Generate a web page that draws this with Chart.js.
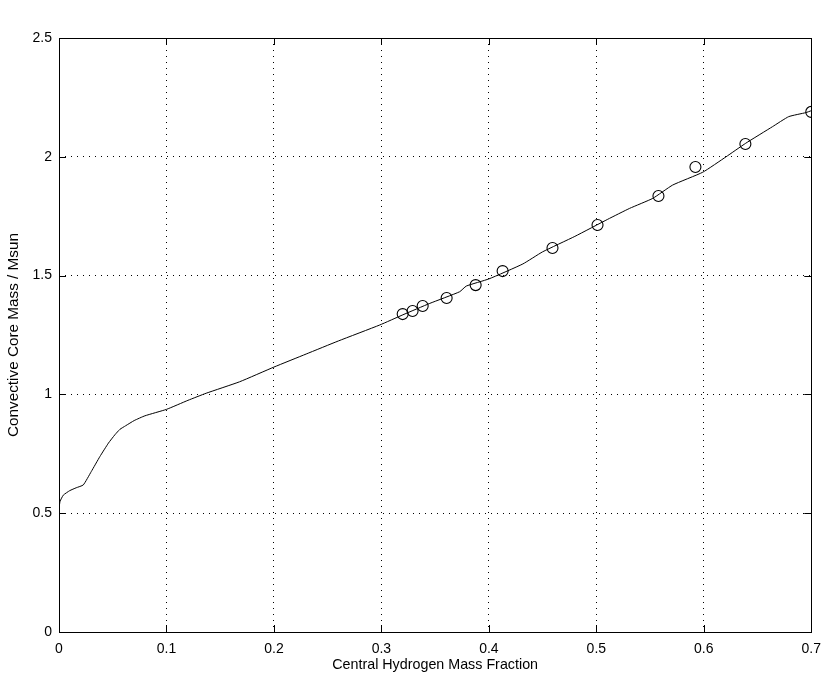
<!DOCTYPE html>
<html>
<head>
<meta charset="utf-8">
<script src="https://cdn.jsdelivr.net/npm/chart.js@4"></script>
<style>
  html, body { margin: 0; padding: 0; background: #fff; }
  #wrap { width: 830px; height: 680px; }
</style>
</head>
<body>
<div id="wrap"><canvas id="chart" width="830" height="680"></canvas></div>
<script>
// curve: convective core mass vs central hydrogen fraction
const LINE_X = [0, 0.001, 0.004, 0.01, 0.016, 0.0226, 0.03, 0.038, 0.046, 0.052, 0.0567, 0.062, 0.07, 0.08, 0.1, 0.12, 0.137, 0.168, 0.2, 0.23, 0.26, 0.2984, 0.32, 0.345, 0.3728, 0.379, 0.4, 0.4316, 0.45, 0.48, 0.5106, 0.531, 0.5525, 0.571, 0.599, 0.6207, 0.639, 0.664, 0.679, 0.695, 0.7];
const LINE_Y = [0.52, 0.55, 0.576, 0.595, 0.607, 0.619, 0.675, 0.738, 0.795, 0.83, 0.853, 0.868, 0.89, 0.91, 0.937, 0.975, 1.005, 1.053, 1.115, 1.17, 1.225, 1.292, 1.335, 1.383, 1.432, 1.456, 1.486, 1.549, 1.6, 1.665, 1.737, 1.783, 1.825, 1.881, 1.935, 2.0, 2.057, 2.127, 2.169, 2.186, 2.194];

// open circles
const CIRCLE_X = [0.3198, 0.329, 0.3384, 0.3607, 0.3877, 0.4128, 0.4592, 0.5011, 0.5578, 0.5922, 0.6387, 0.70];
const CIRCLE_Y = [1.338, 1.351, 1.372, 1.406, 1.460, 1.519, 1.616, 1.713, 1.835, 1.957, 2.054, 2.189];

const X_TICKS = [0, 0.1, 0.2, 0.3, 0.4, 0.5, 0.6, 0.7];
const X_TICK_LABELS = ['0', '0.1', '0.2', '0.3', '0.4', '0.5', '0.6', '0.7'];
const Y_TICKS = [0, 0.5, 1, 1.5, 2, 2.5];
const Y_TICK_LABELS = ['0', '0.5', '1', '1.5', '2', '2.5'];

const FONT = 'Liberation Sans, Arial, Helvetica, sans-serif';

// box around plot + inward tick marks on all four sides
const boxPlugin = {
  id: 'box',
  afterDraw(chart) {
    const { ctx, chartArea: a, scales } = chart;
    ctx.save();
    ctx.strokeStyle = '#000';
    ctx.lineWidth = 1;
    ctx.setLineDash([]);
    ctx.beginPath();
    const len = 7;
    X_TICKS.forEach(v => {
      const px = Math.round(scales.x.getPixelForValue(v)) + 0.5;
      ctx.moveTo(px, a.bottom); ctx.lineTo(px, a.bottom - len);
      ctx.moveTo(px, a.top); ctx.lineTo(px, a.top + len);
    });
    Y_TICKS.forEach(v => {
      const py = Math.round(scales.y.getPixelForValue(v)) + 0.5;
      ctx.moveTo(a.left, py); ctx.lineTo(a.left + len, py);
      ctx.moveTo(a.right, py); ctx.lineTo(a.right - len, py);
    });
    ctx.stroke();
    ctx.strokeRect(Math.round(a.left) + 0.5, Math.round(a.top) + 0.5,
      Math.round(a.right - a.left), Math.round(a.bottom - a.top));
    ctx.restore();
  }
};

new Chart(document.getElementById('chart'), {
  type: 'scatter',
  data: {
    datasets: [
      {
        label: 'curve',
        data: LINE_X.map((x, i) => ({ x, y: LINE_Y[i] })),
        showLine: true,
        borderColor: '#000',
        borderWidth: 1,
        pointRadius: 0,
        tension: 0.15
      },
      {
        label: 'points',
        data: CIRCLE_X.map((x, i) => ({ x, y: CIRCLE_Y[i] })),
        showLine: false,
        pointStyle: 'circle',
        pointRadius: 5.5,
        pointBorderColor: '#000',
        pointBackgroundColor: 'rgba(0,0,0,0)',
        pointBorderWidth: 1.1
      }
    ]
  },
  options: {
    responsive: false,
    animation: false,
    layout: { padding: { left: 0, right: 18, top: 38, bottom: 0 } },
    plugins: {
      legend: { display: false },
      tooltip: { enabled: false }
    },
    scales: {
      x: {
        type: 'linear',
        min: 0,
        max: 0.7,
        afterBuildTicks: s => { s.ticks = X_TICKS.map(v => ({ value: v })); },
        afterFit: s => { s.height = 48; },
        border: { display: false, dash: [1, 5] },
        grid: {
          color: '#000',
          lineWidth: 1,
          drawTicks: false
        },
        ticks: {
          color: '#000',
          font: { family: FONT, size: 14 },
          padding: 9,
          maxRotation: 0,
          callback: (v, i) => X_TICK_LABELS[i]
        },
        title: {
          display: true,
          text: 'Central Hydrogen Mass Fraction',
          color: '#000',
          font: { family: FONT, size: 14.3 },
          padding: { top: 0, bottom: 6 }
        }
      },
      y: {
        type: 'linear',
        min: 0,
        max: 2.5,
        afterBuildTicks: s => { s.ticks = Y_TICKS.map(v => ({ value: v })); },
        afterFit: s => { s.width = 59; },
        border: { display: false, dash: [1, 5] },
        grid: {
          color: '#000',
          lineWidth: 1,
          drawTicks: false
        },
        ticks: {
          color: '#000',
          font: { family: FONT, size: 14 },
          padding: 7,
          callback: (v, i) => Y_TICK_LABELS[i]
        },
        title: {
          display: true,
          text: 'Convective Core Mass / Msun',
          color: '#000',
          font: { family: FONT, size: 15.3 },
          padding: { top: 5, bottom: 0 }
        }
      }
    }
  },
  plugins: [boxPlugin]
});
</script>
</body>
</html>
